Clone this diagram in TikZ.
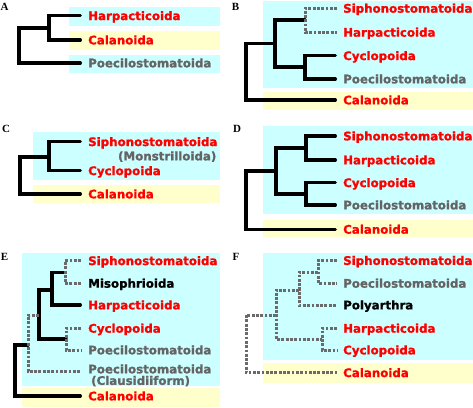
\documentclass[tikz,border=0pt]{standalone}
\usepackage{fontspec}
\newfontfamily\taxfont{DejaVu Sans}[BoldFeatures={FakeBold=1.3}]
\newfontfamily\letfont{Liberation Serif}
\definecolor{cbox}{HTML}{CCFFFF}
\definecolor{ybox}{HTML}{FFFFCC}
\definecolor{tred}{HTML}{FF0000}
\definecolor{tgray}{HTML}{646464}
\definecolor{lgray}{HTML}{6A6A6A}
\begin{document}
\begin{tikzpicture}[x=1pt,y=-1pt,
  tx/.style={anchor=west, inner sep=0pt, text height=8.7pt, text depth=0pt,
    font=\taxfont\bfseries\fontsize{11.8}{14}\selectfont},
  rd/.style={tx, text=tred},
  gy/.style={tx, text=tgray},
  bk/.style={tx, text=black},
  plab/.style={inner sep=0pt, font=\letfont\bfseries\fontsize{11}{12}\selectfont},
  br/.style={line width=3.4pt, line cap=round, line join=miter, black},
  dt/.style={line width=3pt, lgray, line cap=butt, dash pattern=on 2.8pt off 1.5pt}]
\useasboundingbox (0,0) rectangle (473,407);

% ---------- backgrounds ----------
% A
\fill[cbox] (69,7) rectangle (220,26);
\fill[ybox] (69,31) rectangle (220,50);
\fill[cbox] (69,55) rectangle (220,73);
% B
\fill[cbox] (263,1) rectangle (473,88);
\fill[ybox] (263,92) rectangle (473,110);
% C
\fill[cbox] (33,132) rectangle (220,180);
\fill[ybox] (33,185) rectangle (220,203);
% D
\fill[cbox] (263,126) rectangle (473,214);
\fill[ybox] (263,220) rectangle (473,237);
% E
\fill[cbox] (22,253) rectangle (220,386);
\fill[ybox] (22,388) rectangle (220,407);
% F
\fill[cbox] (263,253) rectangle (473,360);
\fill[ybox] (263,363) rectangle (473,383);

% ---------- panel letters ----------
\node[plab] (LA) at (4.7,6.7) {A};
\node[plab] (LB) at (235.5,6.7) {B};
\node[plab] (LC) at (6,129) {C};
\node[plab] (LD) at (237,129) {D};
\node[plab] (LE) at (4.5,257) {E};
\node[plab] (LF) at (236,257) {F};

% ---------- Panel A ----------
\node[rd] (Aharp) at (88,15.7) {Harpacticoida};
\node[rd] (Acal) at (88,40) {Calanoida};
\node[gy] (Apoe) at (88,63) {Poecilostomatoida};
\coordinate (A1) at (49,28);
\coordinate (A0) at (19,50);
\draw[br] ([xshift=-7.7pt]Aharp.west) -| (A1) |- ([xshift=-7.7pt]Acal.west);
\draw[br] (A1) -| (A0) |- ([xshift=-7.7pt]Apoe.west);

% ---------- Panel B ----------
\node[rd] (Bsip) at (343,8.3) {Siphonostomatoida};
\node[rd] (Bharp) at (343,32.3) {Harpacticoida};
\node[rd] (Bcyc) at (343,55.7) {Cyclopoida};
\node[gy] (Bpoe) at (343,79) {Poecilostomatoida};
\node[rd] (Bcal) at (343,100) {Calanoida};
\coordinate (B1) at (305,20);
\coordinate (B2) at (305,67);
\coordinate (B3) at (275,43.5);
\coordinate (B4) at (246,70);
\draw[br] (B1) -| (B3) |- (B2);
\draw[br] ([xshift=-7.7pt]Bcyc.west) -| (B2) |- ([xshift=-7.7pt]Bpoe.west);
\draw[br] (B3) -| (B4) |- ([xshift=-7.7pt]Bcal.west);
\draw[dt] ([xshift=-6pt]Bsip.west) -| (B1) |- ([xshift=-6pt]Bharp.west);

% ---------- Panel C ----------
\node[rd] (Csip) at (88,141.7) {Siphonostomatoida};
\node[gy, anchor=east] (Cmon) at (216.5,156) {(Monstrilloida)};
\node[rd] (Ccyc) at (88,170.7) {Cyclopoida};
\node[rd] (Ccal) at (88,194) {Calanoida};
\coordinate (C1) at (49,157);
\coordinate (C0) at (20,175);
\draw[br] ([xshift=-7.7pt]Csip.west) -| (C1) |- ([xshift=-7.7pt]Ccyc.west);
\draw[br] (C1) -| (C0) |- ([xshift=-7.7pt]Ccal.west);

% ---------- Panel D ----------
\node[rd] (Dsip) at (343,136) {Siphonostomatoida};
\node[rd] (Dharp) at (343,160) {Harpacticoida};
\node[rd] (Dcyc) at (343,182.7) {Cyclopoida};
\node[gy] (Dpoe) at (343,205) {Poecilostomatoida};
\node[rd] (Dcal) at (343,229.3) {Calanoida};
\coordinate (D1) at (306,148);
\coordinate (D2) at (306,194);
\coordinate (D3) at (276,171);
\coordinate (D4) at (246,200);
\draw[br] ([xshift=-7.7pt]Dsip.west) -| (D1) |- ([xshift=-7.7pt]Dharp.west);
\draw[br] ([xshift=-7.7pt]Dcyc.west) -| (D2) |- ([xshift=-7.7pt]Dpoe.west);
\draw[br] (D1) -| (D3) |- (D2);
\draw[br] (D3) -| (D4) |- ([xshift=-7.7pt]Dcal.west);

% ---------- Panel E ----------
\node[rd] (Esip) at (88,260.7) {Siphonostomatoida};
\node[bk] (Emis) at (88,283.3) {Misophrioida};
\node[rd] (Eharp) at (88,305) {Harpacticoida};
\node[rd] (Ecyc) at (88,328.3) {Cyclopoida};
\node[gy] (Epoe) at (88,350) {Poecilostomatoida};
\node[gy] (Epoc) at (88,369) {Poecilostomatoida};
\node[gy] (Ecla) at (91,380.5) {(Clausidiiform)};
\node[rd] (Ecal) at (88,396) {Calanoida};
\coordinate (E1) at (65,272.5);
\coordinate (E2) at (52,290);
\coordinate (E3) at (39,315);
\coordinate (E4) at (66,339);
\coordinate (E5) at (28,345);
\coordinate (E6) at (15,370);
\draw[br] (E1) -| (E2) |- ([xshift=-7.7pt]Eharp.west);
\draw[br] (E2) -| (E3) |- (E4);
\draw[br] (E5) -| (E6) |- ([xshift=-7.7pt]Ecal.west);
\draw[dt] ([xshift=-7pt]Esip.west) -| (E1) |- ([xshift=-7pt]Emis.west);
\draw[dt] ([xshift=-7pt]Ecyc.west) -| (E4) |- ([xshift=-7pt]Epoe.west);
\draw[dt] (E3) -| (E5) |- ([xshift=-7pt,yshift=-2pt]Epoc.west);

% ---------- Panel F ----------
\node[rd] (Fsip) at (343,260.5) {Siphonostomatoida};
\node[gy] (Fpoe) at (343,283.3) {Poecilostomatoida};
\node[bk] (Fpol) at (343,305) {Polyarthra};
\node[rd] (Fharp) at (343,328.3) {Harpacticoida};
\node[rd] (Fcyc) at (343,350) {Cyclopoida};
\node[rd] (Fcal) at (343,372.7) {Calanoida};
\coordinate (F1) at (318,272);
\coordinate (F2) at (299,290);
\coordinate (F3) at (276,315);
\coordinate (F4) at (322,339);
\coordinate (F5) at (246,345);
\draw[dt] ([xshift=-6pt]Fsip.west) -| (F1) |- ([xshift=-6pt]Fpoe.west);
\draw[dt] (F1) -| (F2) |- ([xshift=-6pt]Fpol.west);
\draw[dt] ([xshift=-6pt]Fharp.west) -| (F4) |- ([xshift=-6pt]Fcyc.west);
\draw[dt] (F2) -| (F3) |- (F4);
\draw[dt] (F3) -| (F5) |- ([xshift=-6pt]Fcal.west);
\end{tikzpicture}
\end{document}
